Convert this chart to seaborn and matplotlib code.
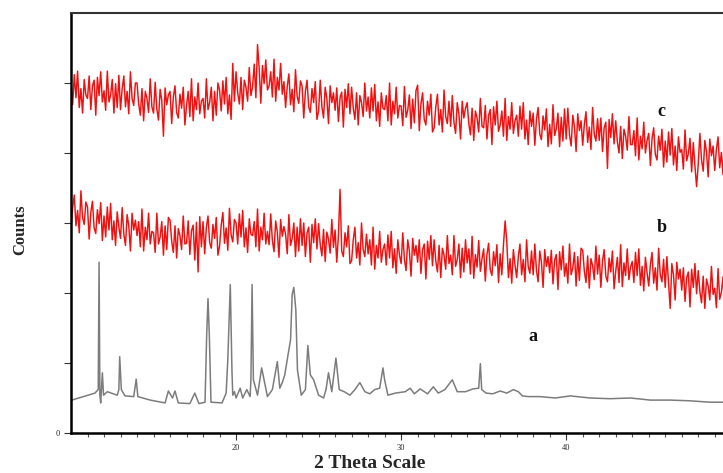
import numpy as np
import matplotlib
matplotlib.use("Agg")
import matplotlib.pyplot as plt
import seaborn as sns

# 2 theta scan grid (0.1 deg step)
two_theta = np.round(np.arange(10.0, 50.0, 0.1), 1)

# trace c (top, red)
counts_c = [
    499, 469, 512, 479, 517, 465, 492, 457, 505, 483,
    478, 510, 462, 496, 504, 454, 508, 482, 516, 473,
    489, 461, 517, 473, 483, 505, 457, 499, 465, 511,
    462, 492, 510, 466, 488, 456, 516, 478, 468, 500,
    500, 470, 454, 492, 446, 488, 478, 458, 506, 466,
    457, 501, 463, 447, 491, 475, 424, 493, 469, 483,
    488, 442, 480, 496, 458, 450, 484, 464, 494, 440,
    468, 488, 452, 506, 446, 480, 462, 500, 456, 474,
    478, 450, 506, 462, 472, 494, 446, 488, 454, 500,
    490, 460, 503, 470, 508, 456, 483, 448, 528, 474,
    516, 486, 470, 508, 462, 504, 494, 474, 522, 482,
    495, 527, 479, 555, 521, 471, 525, 499, 533, 490,
    496, 516, 480, 534, 474, 508, 490, 528, 484, 502,
    465, 495, 513, 469, 491, 459, 519, 481, 471, 503,
    496, 450, 488, 504, 466, 458, 492, 472, 502, 448,
    460, 504, 466, 450, 494, 478, 442, 496, 472, 486,
    461, 493, 445, 479, 487, 437, 491, 465, 499, 456,
    494, 464, 448, 486, 440, 482, 472, 452, 500, 460,
    480, 450, 493, 460, 498, 446, 473, 438, 486, 464,
    462, 482, 446, 500, 440, 474, 456, 494, 450, 468,
    467, 439, 495, 451, 461, 483, 435, 477, 443, 489,
    497, 432, 470, 486, 448, 440, 474, 454, 484, 430,
    436, 466, 484, 440, 462, 430, 490, 452, 442, 474,
    438, 482, 444, 428, 472, 456, 420, 474, 450, 464,
    472, 442, 426, 464, 418, 460, 450, 430, 478, 438,
    436, 468, 420, 454, 462, 412, 466, 440, 474, 431,
    440, 460, 424, 478, 418, 452, 434, 472, 428, 446,
    454, 424, 467, 434, 472, 420, 447, 412, 460, 438,
    457, 411, 449, 465, 427, 419, 453, 433, 463, 409,
    441, 413, 469, 425, 435, 457, 409, 451, 417, 463,
    420, 464, 426, 410, 454, 438, 402, 456, 432, 446,
    411, 441, 459, 415, 437, 405, 465, 427, 417, 449,
    418, 450, 402, 436, 444, 378, 448, 422, 456, 413,
    446, 416, 400, 438, 392, 434, 424, 404, 452, 412,
    412, 432, 396, 450, 390, 424, 406, 444, 400, 418,
    428, 382, 420, 436, 398, 390, 424, 404, 434, 380,
    417, 387, 430, 397, 435, 383, 410, 375, 423, 401,
    405, 377, 433, 389, 399, 421, 373, 415, 381, 352,
    384, 428, 390, 374, 418, 402, 366, 420, 396, 410,
    375, 405, 423, 379, 401, 369, 429, 391, 381, 413,
]

# trace b (middle, red)
counts_b = [
    292, 322, 340, 296, 318, 286, 346, 308, 298, 330,
    323, 277, 315, 331, 293, 285, 319, 299, 329, 275,
    310, 280, 323, 290, 328, 276, 303, 268, 316, 294,
    278, 322, 284, 268, 312, 296, 260, 314, 290, 304,
    282, 302, 266, 320, 260, 294, 276, 314, 270, 288,
    286, 258, 314, 270, 280, 302, 254, 296, 262, 308,
    304, 274, 258, 296, 250, 292, 282, 262, 310, 270,
    271, 303, 255, 289, 297, 247, 301, 230, 309, 266,
    302, 256, 294, 310, 272, 264, 298, 278, 308, 254,
    267, 297, 315, 271, 293, 261, 321, 283, 273, 305,
    300, 270, 313, 280, 318, 266, 293, 258, 306, 284,
    282, 302, 266, 320, 260, 294, 276, 314, 270, 288,
    269, 313, 275, 259, 303, 287, 251, 305, 281, 295,
    284, 256, 312, 268, 278, 300, 252, 294, 260, 306,
    268, 300, 252, 286, 294, 244, 298, 272, 306, 263,
    299, 269, 253, 291, 245, 287, 277, 257, 305, 265,
    290, 244, 282, 348, 260, 252, 286, 266, 296, 242,
    246, 276, 294, 250, 272, 240, 300, 262, 252, 284,
    256, 276, 240, 294, 234, 268, 250, 288, 244, 262,
    270, 240, 283, 250, 288, 236, 263, 228, 276, 254,
    242, 286, 248, 232, 276, 260, 224, 278, 254, 268,
    244, 276, 228, 262, 270, 220, 274, 248, 282, 239,
    276, 246, 230, 268, 222, 264, 254, 234, 282, 242,
    254, 226, 282, 238, 248, 270, 222, 264, 230, 276,
    243, 263, 227, 281, 221, 255, 237, 275, 231, 249,
    263, 217, 255, 271, 233, 225, 259, 239, 269, 215,
    256, 226, 269, 303, 274, 222, 249, 214, 262, 240,
    222, 252, 270, 226, 248, 216, 276, 238, 228, 260,
    226, 270, 232, 216, 260, 244, 208, 262, 238, 252,
    229, 261, 213, 247, 255, 205, 259, 233, 267, 224,
    242, 214, 270, 226, 236, 258, 210, 252, 218, 264,
    261, 231, 215, 253, 207, 249, 239, 219, 267, 227,
    254, 208, 246, 262, 224, 216, 250, 230, 260, 206,
    231, 251, 215, 269, 209, 243, 225, 263, 219, 237,
    245, 215, 258, 225, 263, 211, 238, 203, 251, 229,
    210, 240, 258, 214, 236, 204, 264, 226, 216, 248,
    208, 252, 214, 178, 242, 226, 190, 244, 220, 234,
    204, 236, 188, 222, 230, 180, 234, 208, 242, 199,
    232, 202, 186, 224, 178, 220, 210, 190, 238, 198,
    207, 179, 235, 191, 201, 223, 175, 217, 183, 229,
]

theta_a = [10.05, 11.45, 11.65, 11.7, 11.75, 11.8, 11.9, 11.97, 12.2, 12.8,
           12.9, 12.95, 13.05, 13.27, 13.8, 13.95, 14.05, 14.8, 15.7, 15.9,
           16.15, 16.3, 16.5, 17.2, 17.5, 17.75, 18.12, 18.22, 18.3, 18.38,
           18.48, 19.15, 19.4, 19.5, 19.65, 19.75, 19.8, 19.9, 20.0, 20.25,
           20.4, 20.65, 20.85, 20.9, 20.97, 21.05, 21.3, 21.55, 21.9, 22.2,
           22.5, 22.65, 22.8, 22.95, 23.15, 23.3, 23.4, 23.5, 23.62, 23.72,
           23.95, 24.2, 24.35, 24.5, 24.7, 25.0, 25.3, 25.45, 25.6, 25.8,
           26.05, 26.25, 26.55, 26.9, 27.2, 27.5, 27.8, 28.1, 28.4, 28.7,
           28.9, 29.0, 29.2, 29.65, 30.25, 30.55, 30.8, 31.15, 31.6, 31.95,
           32.25, 32.65, 33.1, 33.4, 33.9, 34.35, 34.7, 34.8, 34.88, 35.15,
           35.55, 36.0, 36.4, 36.8, 37.1, 37.35, 37.7, 38.4, 39.35, 40.25,
           41.45, 42.65, 43.9, 45.1, 46.3, 47.5, 48.7, 49.5]
counts_a = [47, 57, 62, 244, 54, 43, 86, 54, 59, 54,
            62, 109, 62, 53, 52, 77, 52, 47, 43, 60,
            50, 60, 43, 42, 57, 42, 44, 140, 192, 140,
            44, 43, 57, 105, 212, 90, 54, 59, 50, 64,
            50, 62, 52, 76, 212, 76, 54, 93, 52, 62,
            102, 64, 72, 83, 112, 133, 198, 208, 176, 90,
            54, 62, 125, 83, 76, 54, 50, 62, 86, 59,
            107, 62, 59, 54, 62, 72, 59, 56, 62, 64,
            93, 76, 54, 57, 59, 64, 56, 63, 56, 66,
            57, 62, 76, 59, 59, 63, 64, 99, 62, 57,
            56, 60, 57, 62, 59, 53, 52, 52, 50, 53,
            50, 49, 50, 47, 47, 46, 44, 44]

trace_labels = ["a", "b", "c"]
label_x = [38.0, 45.76, 45.76]
label_y = [138, 294, 459]

sns.set_style("ticks")
plt.rcParams['font.family'] = ['Liberation Serif', 'DejaVu Serif']

fig = plt.figure(figsize=(7.23, 4.73), dpi=100)
ax = fig.add_axes([71 / 723, 1 - 433 / 473, 652 / 723, 420 / 473])

red = "#f01010"
sns.lineplot(x=two_theta, y=counts_c, color=red, lw=1.05, ax=ax, estimator=None)
sns.lineplot(x=two_theta, y=counts_b, color=red, lw=1.05, ax=ax, estimator=None)
sns.lineplot(x=theta_a, y=counts_a, color="#7c7c7c", lw=1.1, ax=ax,
             estimator=None, sort=False)

for lab, lx, ly in zip(trace_labels, label_x, label_y):
    ax.text(lx, ly, lab, fontsize=13, fontweight="bold", ha="center",
            va="center", color="#111111")

ax.set_xlim(10, 49.5)
ax.set_ylim(0, 600)

ax.set_xticks([20, 30, 40])
ax.set_xticklabels(["20", "30", "40"], fontsize=6)
ax.set_xticks(np.arange(11, 50, 1), minor=True)
ax.set_yticks(range(0, 501, 100))
ax.set_yticklabels(["0", "", "", "", "", ""], fontsize=6)
ax.tick_params(axis="both", which="major", length=5, width=0.8, color="#333333", pad=3)
ax.tick_params(axis="x", which="minor", length=3, width=0.8, color="#555555")

for side in ["left", "bottom"]:
    ax.spines[side].set_linewidth(1.8)
    ax.spines[side].set_color("black")
ax.spines["top"].set_linewidth(1.5)
ax.spines["top"].set_color("#333333")
ax.spines["right"].set_visible(False)

ax.set_xlabel("2 Theta Scale", fontsize=14, fontweight="bold")
ax.xaxis.set_label_coords((370 - 71) / 652, (433 - 455) / 420)
ax.set_ylabel("Counts", fontsize=12, fontweight="bold")
ax.yaxis.set_label_coords((28 - 71) / 652, (433 - 230) / 420)

fig.savefig("out.png", dpi=100)
